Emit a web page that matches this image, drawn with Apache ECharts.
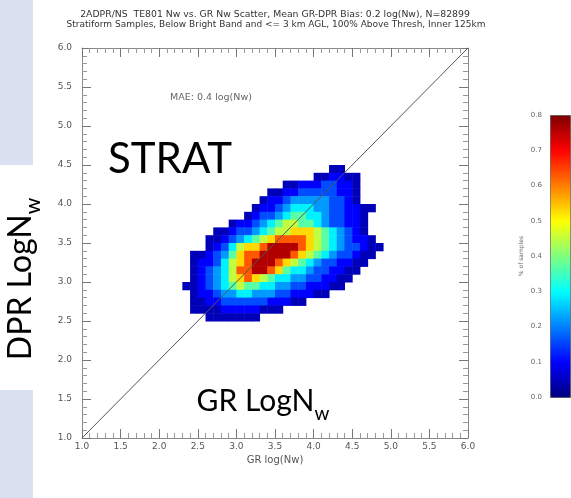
<!DOCTYPE html>
<html><head><meta charset="utf-8">
<script src="https://cdn.jsdelivr.net/npm/echarts@6/dist/echarts.min.js"></script>
<style>html,body{margin:0;padding:0;background:#fff}#c{width:571px;height:498px}</style>
</head><body><div id="c"></div>
<script>
// ---- data ----
const grFirstBin = 2.3;     // GR log(Nw) lower edge of first column
const dprFirstBin = 4.4;    // DPR log(Nw) lower edge of first (top) row
const binSize = 0.1;
// fraction-of-samples value for each colour level
const levelValues = [0.045, 0.10, 0.16, 0.22, 0.29, 0.37, 0.45, 0.53, 0.63, 0.76];
// each row: [first column index, level digit per cell]; rows go from DPR 4.4 down to 2.5
const binRows = [
  [19, "00"],
  [17, "001100"],
  [13, "0011122110"],
  [11, "001122222110"],
  [10, "0112333332210"],
  [9,  "0112344433221100"],
  [8,  "0122345544322110"],
  [6,  "011234566554322110"],
  [4,  "00122345667776543210"],
  [3,  "0012345678888765432110"],
  [3,  "01246778999987654322100"],
  [1,  "001235788999987654322100"],
  [1,  "01124678999876543221100"],
  [1,  "0123468899875443221100"],
  [1,  "012346787654433221100"],
  [0,  "001234565544332211100"],
  [1,  "011233443332211100"],
  [1,  "001122222211100"],
  [1,  "000011111000"],
  [3,  "0000000"]
];
const axisTicks = [1.0, 1.5, 2.0, 2.5, 3.0, 3.5, 4.0, 4.5, 5.0, 5.5, 6.0];
const colorbarTicks = [0.0, 0.1, 0.2, 0.3, 0.4, 0.5, 0.6, 0.7, 0.8];
const oneToOne = [[1, 1], [6, 6]];
const titleLine1 = "2ADPR/NS  TE801 Nw vs. GR Nw Scatter, Mean GR-DPR Bias: 0.2 log(Nw), N=82899";
const titleLine2 = "Stratiform Samples, Below Bright Band and <= 3 km AGL, 100% Above Thresh, Inner 125km";
const maeText = "MAE: 0.4 log(Nw)";

// ---- build cells ----
const cells = [];
binRows.forEach(([start, levels], r) => {
  for (let i = 0; i < levels.length; i++) {
    const c = start + i;
    const gr = Math.round((grFirstBin + c * binSize) * 10) / 10;
    const dpr = Math.round((dprFirstBin - r * binSize) * 10) / 10;
    cells.push([gr, dpr, levelValues[+levels[i]]]);
  }
});

const jet = ['#00007f', '#0000ff', '#007fff', '#00ffff', '#7fff7f', '#ffff00', '#ff7f00', '#ff0000', '#7f0000'];
const lblFont = 'DejaVu Sans';
const bigFont = 'Lato';
const lbl = { fontSize: 9, color: '#555', fontFamily: lblFont, formatter: v => v.toFixed(1) };

function axisCommon(pos, showLabel) {
  return {
    type: 'value', min: axisTicks[0], max: axisTicks[axisTicks.length - 1], interval: 0.5,
    position: pos, gridIndex: 0,
    axisLine: { show: true, onZero: false, lineStyle: { color: '#8a8a8a', width: 1 } },
    axisTick: { show: true, inside: true, length: 9, lineStyle: { color: '#777' } },
    minorTick: { show: true, splitNumber: 5, length: 5, lineStyle: { color: '#999' } },
    splitLine: { show: false },
    axisLabel: Object.assign({ show: showLabel }, lbl)
  };
}

const chart = echarts.init(document.getElementById('c'), null, { renderer: 'canvas' });
chart.setOption({
  backgroundColor: '#fff',
  animation: false,
  grid: [
    { left: 82, top: 48, width: 386, height: 390 },
    { left: 550, top: 115, width: 20, height: 282 }
  ],
  xAxis: [
    Object.assign(axisCommon('bottom', true), {
      name: 'GR log(Nw)', nameLocation: 'middle', nameGap: 17,
      nameTextStyle: { fontSize: 10, color: '#555', fontFamily: lblFont },
      axisLabel: Object.assign({ show: true, margin: 4 }, lbl)
    }),
    axisCommon('top', false),
    { type: 'value', gridIndex: 1, show: false, min: 0, max: 1 }
  ],
  yAxis: [
    Object.assign(axisCommon('left', true), {
      axisLabel: Object.assign({ show: true, margin: 10 }, lbl)
    }),
    axisCommon('right', false),
    {
      type: 'value', gridIndex: 1, min: colorbarTicks[0], max: colorbarTicks[colorbarTicks.length - 1], interval: 0.1,
      position: 'left',
      axisLine: { show: false }, axisTick: { show: false }, splitLine: { show: false },
      axisLabel: { fontSize: 7, color: '#666', fontFamily: lblFont, margin: 8, formatter: v => v.toFixed(1) },
      name: '% of samples', nameLocation: 'middle', nameRotate: 90, nameGap: 26,
      nameTextStyle: { fontSize: 6, color: '#666', fontFamily: lblFont }
    }
  ],
  visualMap: {
    type: 'continuous', min: 0, max: 0.8, dimension: 2, seriesIndex: 0,
    calculable: false, orient: 'vertical', left: 550, top: 115,
    itemWidth: 20, itemHeight: 282, padding: 0, text: null,
    borderColor: '#555', borderWidth: 1,
    inRange: { color: jet }
  },
  series: [
    {
      type: 'custom', xAxisIndex: 0, yAxisIndex: 0, data: cells,
      encode: { x: 0, y: 1 },
      renderItem: function (params, api) {
        const p = api.coord([api.value(0), api.value(1) + binSize]);
        const s = api.size([binSize, binSize]);
        return { type: 'rect', shape: { x: p[0], y: p[1], width: s[0] + 0.5, height: s[1] + 0.5 },
          style: { fill: api.visual('color') } };
      },
      z: 2
    },
    {
      type: 'line', xAxisIndex: 0, yAxisIndex: 0, data: oneToOne, symbol: 'none',
      lineStyle: { color: '#555', width: 1 }, z: 5, silent: true
    }
  ],
  graphic: [
    { type: 'rect', shape: { x: 0, y: 0, width: 33, height: 165 }, style: { fill: '#dae2f1' }, z: -1 },
    { type: 'rect', shape: { x: 0, y: 390, width: 33, height: 108 }, style: { fill: '#dae2f1' }, z: -1 },
    { type: 'text', style: { x: 275, y: 15, text: titleLine1, textAlign: 'center', textVerticalAlign: 'middle',
        font: '9.3px "DejaVu Sans"', fill: '#333' } },
    { type: 'text', style: { x: 276, y: 25, text: titleLine2, textAlign: 'center', textVerticalAlign: 'middle',
        font: '9px "DejaVu Sans"', fill: '#333' } },
    { type: 'text', style: { x: 211, y: 98, text: maeText, textAlign: 'center', textVerticalAlign: 'middle',
        font: '9.5px "DejaVu Sans"', fill: '#666' } },
    { type: 'text', style: { x: 108, y: 159, text: 'STRAT', textAlign: 'left', textVerticalAlign: 'middle',
        font: '42px "Lato"', fill: '#000' } },
    { type: 'text', x: 24, y: 279, rotation: Math.PI / 2,
      style: { x: 0, y: 0, text: '{a|DPR LogN}{b|w}', textAlign: 'center', textVerticalAlign: 'middle',
        rich: { a: { fontSize: 32, fontFamily: bigFont, fill: '#000', verticalAlign: 'bottom', padding: [0, 0, 7, 0] },
                b: { fontSize: 21, fontFamily: bigFont, fill: '#000', verticalAlign: 'bottom' } } } },
    { type: 'text', x: 263, y: 405,
      style: { x: 0, y: 0, text: '{a|GR LogN}{b|w}', textAlign: 'center', textVerticalAlign: 'middle',
        rich: { a: { fontSize: 30, fontFamily: bigFont, fill: '#000', verticalAlign: 'bottom', padding: [0, 0, 7, 0] },
                b: { fontSize: 19, fontFamily: bigFont, fill: '#000', verticalAlign: 'bottom' } } } }
  ]
});
</script></body></html>
